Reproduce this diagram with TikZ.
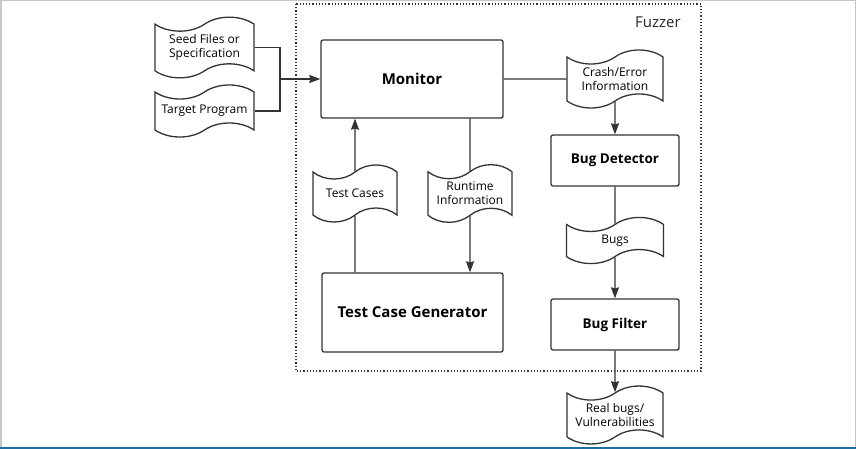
\documentclass[tikz,border=0pt]{standalone}
\usepackage{fontspec}
\setmainfont{Open Sans}
\usepackage{tikz}
\usetikzlibrary{arrows.meta,shapes.symbols}
\definecolor{linegray}{HTML}{333333}
\definecolor{edgeblue}{HTML}{1B6EA3}

\begin{document}
\begin{tikzpicture}[x=1pt,y=-1pt,->,>={Stealth[length=11pt,width=8pt,inset=1pt]},
                    line width=1.3pt,color=linegray,
                    box node/.style={rectangle,rounded corners=2pt,draw,text=black,
                      font=\bfseries\fontsize{15}{18}\selectfont},
                    tape node/.style={tape,draw,align=center,text=black,
                      tape bend height=14pt,font=\fontsize{12}{14}\selectfont}]
  \useasboundingbox (0,0) rectangle (856,449);
  \draw [-,line width=1.5pt,black!22] (0.75,449) -- (0.75,0.75) -- (855.25,0.75) -- (855.25,449);
  \draw [-,line width=2pt,edgeblue] (0,448) -- (856,448);
  \draw [-,dotted,line width=1.2pt] (296,4) rectangle (701,371);
%  \draw [thin] (296,4) rectangle (701,371);
  \node[text=black!85,font=\fontsize{15}{18}\selectfont] (0) at (658,22) {Fuzzer};
  \node[tape node,minimum width=99pt,minimum height=53pt] (1) at (204.5,47.5) {Seed Files or\\Specification};
  \node[tape node,minimum width=99pt,minimum height=52pt] (2) at (204.5,111) {Target Program};
  \node[box node,minimum width=182pt,minimum height=78pt] (3) at (412,79) {Monitor};
  \node[tape node,minimum width=96pt,minimum height=58pt] (4) at (615,79) {Crash/Error\\Information};
  \node[tape node,minimum width=84pt,minimum height=57pt] (5) at (355,193.5) {Test Cases};
  \node[tape node,minimum width=84pt,minimum height=57pt] (6) at (470,193.5) {Runtime\\Information};
  \node[box node,minimum width=128pt,minimum height=51pt,font=\bfseries\fontsize{13.5}{16}\selectfont] (7) at (615,160.5) {Bug Detector};
  \node[tape node,minimum width=97pt,minimum height=45pt] (8) at (615,240.5) {Bugs};
  \node[box node,minimum width=181pt,minimum height=79pt] (9) at (412.5,312.5) {Test Case Generator};
  \node[box node,minimum width=128pt,minimum height=51pt,font=\bfseries\fontsize{13.5}{16}\selectfont] (10) at (615,324.5) {Bug Filter};
  \node[tape node,minimum width=96pt,minimum height=50pt] (11) at (615,415) {Real bugs/\\Vulnerabilities};
  \coordinate (j) at (280,79);
  \draw [-] (1) -| (j);
  \draw [-] (2) -| (j);
  \path (j) edge (3)
        (3) edge[-] (4)
        (5) edge (5 |- 3.south)
        (5) edge[-] (5 |- 9.north)
        (6 |- 3.south) edge[-] (6)
        (6) edge (6 |- 9.north)
        (4) edge (7)
        (7) edge[-] (8)
        (8) edge (10)
        (10) edge (11);
\end{tikzpicture}
\end{document}
